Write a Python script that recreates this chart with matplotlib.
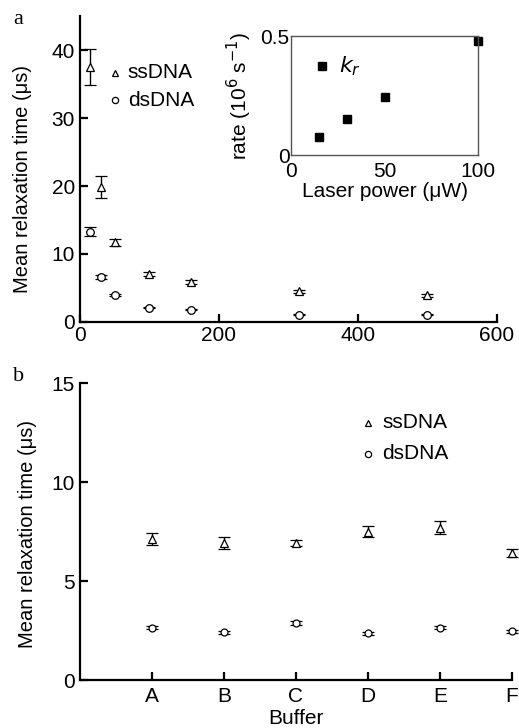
import matplotlib
matplotlib.use("Agg")
import matplotlib.pyplot as plt

plt.rcParams["font.family"] = ["Liberation Sans", "DejaVu Sans"]

# panel a: relaxation time vs laser power
power = [15, 30, 50, 100, 160, 316, 500]
ss_a = [37.5, 19.8, 11.7, 7.1, 5.9, 4.5, 3.9]
ss_a_err = [2.7, 1.6, 0.5, 0.3, 0.3, 0.2, 0.2]
ds_a = [13.3, 6.6, 4.0, 2.1, 1.8, 1.1, 1.1]
ds_a_err = [0.6, 0.3, 0.15, 0.1, 0.1, 0.1, 0.1]

# inset: k_r vs laser power
inset_power = [15, 30, 50, 100]
k_r = [0.074, 0.151, 0.242, 0.478]

# panel b: relaxation time per buffer
buffers = ["A", "B", "C", "D", "E", "F"]
ss_b = [7.1, 6.9, 6.9, 7.5, 7.7, 6.4]
ss_b_err = [0.3, 0.3, 0.15, 0.3, 0.35, 0.2]
ds_b = [2.64, 2.41, 2.86, 2.35, 2.64, 2.47]
ds_b_err = [0.08, 0.08, 0.1, 0.08, 0.08, 0.08]

FS = 15

fig = plt.figure(figsize=(5.19, 7.28), dpi=100)


def style_axes(ax):
    for s in ("top", "right"):
        ax.spines[s].set_visible(False)
    for s in ("left", "bottom"):
        ax.spines[s].set_linewidth(1.6)
    ax.tick_params(direction="in", length=6, width=1.6, labelsize=FS)


def draw_series(ax, x, y, yerr, marker, ms):
    ax.errorbar(x, y, yerr=yerr, fmt=marker, mfc="white", mec="black",
                ms=ms, mew=0.9, ecolor="black", elinewidth=1.0,
                capsize=4, capthick=1.0, clip_on=False, zorder=3)


# --- panel a ---
ax1 = fig.add_axes([0.154, 0.5577, 0.803, 0.4203])
style_axes(ax1)
draw_series(ax1, power, ss_a, ss_a_err, "^", 6)
draw_series(ax1, power, ds_a, ds_a_err, "o", 5.5)
ax1.set_xlim(0, 600)
ax1.set_ylim(0, 45)
ax1.set_xticks([0, 200, 400, 600])
ax1.set_yticks([0, 10, 20, 30, 40])
ax1.tick_params(axis="x", pad=3)
ax1.set_ylabel("Mean relaxation time (\u03bcs)", fontsize=14.5)
ax1.yaxis.set_label_coords(-0.115, 0.467)
ax1.plot([0.083], [0.815], "^", transform=ax1.transAxes, mfc="white",
         mec="black", ms=5, mew=0.9)
ax1.plot([0.083], [0.724], "o", transform=ax1.transAxes, mfc="white",
         mec="black", ms=4.5, mew=0.9)
ax1.text(0.115, 0.815, "ssDNA", transform=ax1.transAxes, fontsize=FS,
         va="center")
ax1.text(0.115, 0.724, "dsDNA", transform=ax1.transAxes, fontsize=FS,
         va="center")
fig.text(0.025, 0.973, "a", fontsize=16, family="Liberation Serif",
         va="center")

# --- inset ---
axi = fig.add_axes([0.5607, 0.787, 0.3603, 0.1635])
for s in axi.spines.values():
    s.set_color("#555555")
    s.set_linewidth(1.0)
axi.plot(inset_power, k_r, "s", color="black", ms=6, clip_on=False)
axi.set_xlim(0, 100)
axi.set_ylim(0, 0.5)
axi.set_xticks([0, 50, 100])
axi.set_yticks([0, 0.5])
axi.set_yticklabels(["0", "0.5"])
axi.tick_params(length=0, labelsize=FS)
axi.tick_params(axis="x", pad=5)
axi.tick_params(axis="y", pad=1)
axi.set_xlabel("Laser power (\u03bcW)", fontsize=FS, labelpad=1)
axi.set_ylabel("rate (10$^6$ s$^{-1}$)", fontsize=FS, labelpad=5)
axi.plot([0.165], [0.75], "s", color="black", ms=6, transform=axi.transAxes)
axi.text(0.255, 0.75, "$k_r$", transform=axi.transAxes, fontsize=16,
         va="center")

# --- panel b ---
xb = list(range(1, len(buffers) + 1))
ax2 = fig.add_axes([0.154, 0.0659, 0.832, 0.408])
style_axes(ax2)
draw_series(ax2, xb, ss_b, ss_b_err, "^", 6)
draw_series(ax2, xb, ds_b, ds_b_err, "o", 5)
ax2.set_xlim(0, 6)
ax2.set_ylim(0, 15)
ax2.set_xticks(xb)
ax2.set_xticklabels(buffers)
ax2.set_yticks([0, 5, 10, 15])
ax2.tick_params(axis="x", pad=5)
ax2.set_xlabel("Buffer", fontsize=FS, labelpad=2)
ax2.set_ylabel("Mean relaxation time (\u03bcs)", fontsize=14.5)
ax2.yaxis.set_label_coords(-0.099, 0.49)
ax2.plot([0.668], [0.866], "^", transform=ax2.transAxes, mfc="white",
         mec="black", ms=5, mew=0.9)
ax2.plot([0.668], [0.762], "o", transform=ax2.transAxes, mfc="white",
         mec="black", ms=4.5, mew=0.9)
ax2.text(0.70, 0.866, "ssDNA", transform=ax2.transAxes, fontsize=FS,
         va="center")
ax2.text(0.70, 0.762, "dsDNA", transform=ax2.transAxes, fontsize=FS,
         va="center")
fig.text(0.025, 0.4835, "b", fontsize=16, family="Liberation Serif",
         va="center")

fig.savefig("out.png", dpi=100)
